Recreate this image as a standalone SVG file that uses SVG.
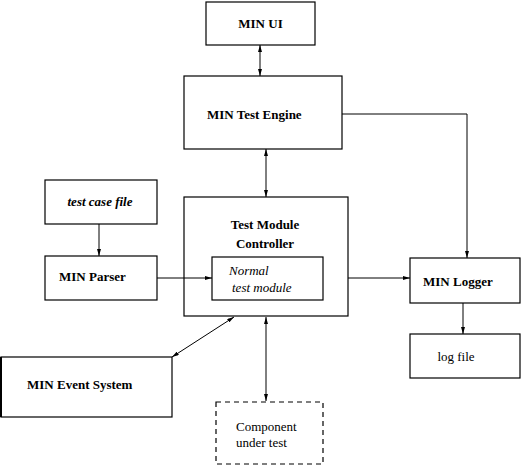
<svg xmlns="http://www.w3.org/2000/svg" width="521" height="465" viewBox="0 0 521 465">
<style>
.box{fill:#fff;stroke:#000;stroke-width:1.2}
.dash{fill:#fff;stroke:#000;stroke-width:1.2;stroke-dasharray:5,4}
.t{font-family:"Liberation Serif","Times New Roman",serif;font-size:13px;fill:#000}
.b{font-weight:bold}
.i{font-style:italic}
.c{stroke:#000;stroke-width:1;fill:none}
</style>
<defs>
<marker id="ah" viewBox="0 0 7 4" refX="7" refY="2" markerWidth="7" markerHeight="4" markerUnits="userSpaceOnUse" orient="auto-start-reverse">
<path d="M0,0 L7,2 L0,4 z" fill="#000"/>
</marker>
</defs>
<rect width="521" height="465" fill="#fff"/>
<g id="min-ui">
<rect class="box" x="206" y="2" width="109" height="43"/>
<text class="t b" x="260.5" y="28" text-anchor="middle">MIN UI</text>
</g>
<g id="min-test-engine">
<rect class="box" x="184" y="76" width="158" height="73"/>
<text class="t b" x="207" y="119">MIN Test Engine</text>
</g>
<g id="test-case-file">
<rect class="box" x="45" y="180" width="112" height="44"/>
<text class="t b i" x="100" y="206" text-anchor="middle">test case file</text>
</g>
<g id="min-parser">
<rect class="box" x="45" y="256" width="112" height="44"/>
<text class="t b" x="59" y="281">MIN Parser</text>
</g>
<g id="test-module-controller">
<rect class="box" x="184" y="197" width="164" height="119"/>
<text class="t b" x="265" y="229" text-anchor="middle">Test Module</text>
<text class="t b" x="265" y="248" text-anchor="middle">Controller</text>
</g>
<g id="normal-test-module">
<rect class="box" x="212" y="257" width="111" height="43"/>
<text class="t i" x="229" y="275">Normal</text>
<text class="t i" x="232" y="292">test module</text>
</g>
<g id="min-logger">
<rect class="box" x="410" y="258" width="110" height="45"/>
<text class="t b" x="423" y="286">MIN Logger</text>
</g>
<g id="log-file">
<rect class="box" x="410" y="334" width="110" height="44"/>
<text class="t" x="456" y="361" text-anchor="middle">log file</text>
</g>
<g id="min-event-system">
<rect class="box" x="1" y="357" width="171" height="60"/>
<line x1="1" y1="357" x2="1" y2="417" stroke="#000" stroke-width="2"/>
<text class="t b" x="27" y="389">MIN Event System</text>
</g>
<g id="component-under-test">
<rect class="dash" x="216" y="402" width="107" height="62"/>
<text class="t" x="236" y="431">Component</text>
<text class="t" x="236" y="447">under test</text>
</g>
<g id="connectors">
<line class="c" x1="260" y1="45" x2="260" y2="76" marker-start="url(#ah)" marker-end="url(#ah)"/>
<line class="c" x1="266" y1="149" x2="266" y2="197" marker-start="url(#ah)" marker-end="url(#ah)"/>
<polyline class="c" points="342,114 467,114 467,258" marker-end="url(#ah)"/>
<line class="c" x1="99" y1="224" x2="99" y2="256" marker-end="url(#ah)"/>
<line class="c" x1="157" y1="278" x2="212" y2="278" marker-end="url(#ah)"/>
<line class="c" x1="348" y1="278" x2="410" y2="278" marker-end="url(#ah)"/>
<line class="c" x1="463" y1="303" x2="463" y2="334" marker-end="url(#ah)"/>
<line class="c" x1="234" y1="317" x2="172" y2="357" marker-start="url(#ah)" marker-end="url(#ah)"/>
<line class="c" x1="266" y1="317" x2="266" y2="401" marker-start="url(#ah)" marker-end="url(#ah)"/>
</g>
</svg>
